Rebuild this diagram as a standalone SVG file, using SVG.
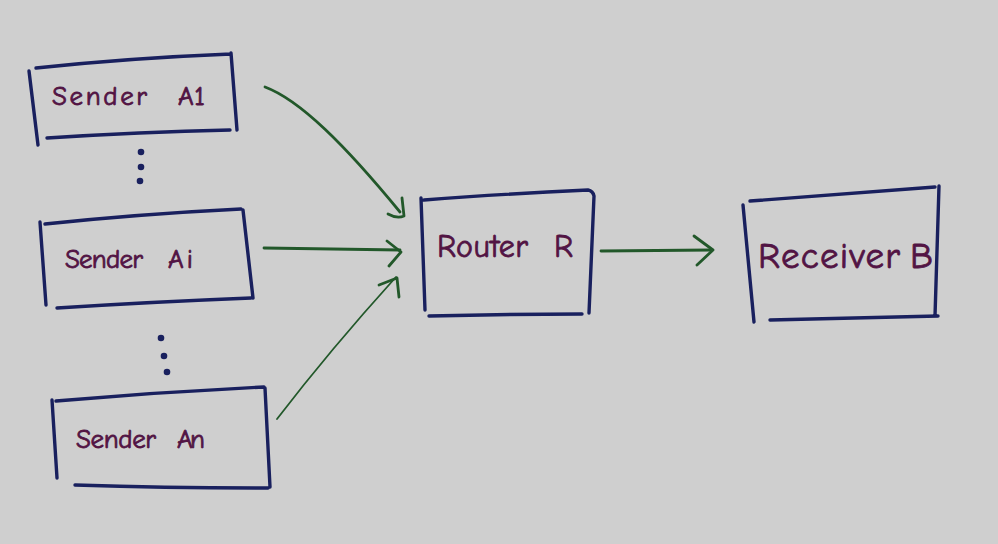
<svg xmlns="http://www.w3.org/2000/svg" width="998" height="544" viewBox="0 0 998 544">
<style>
.box{fill:none;stroke:#19205e;stroke-width:3.4;stroke-linecap:round}
.lbl{font-family:"Comic Neue","Liberation Sans",sans-serif;fill:#521444;stroke:#521444;stroke-width:0.8;font-size:27px}
.con{fill:none;stroke:#22582a;stroke-width:2.8;stroke-linecap:round;stroke-linejoin:round}
.dot{fill:#19205e}
</style>
<rect width="998" height="544" fill="#cfcfcf"/>
<g id="sender-a1">
<path class="box" d="M36,68 Q130,58 231,54 M231,53 L237,130 M47,138 Q140,132 230,130 M29,71 L38,145"/>
<text class="lbl" y="105"><tspan x="52" textLength="95" lengthAdjust="spacing">Sender</tspan><tspan x="178" textLength="27" lengthAdjust="spacing">A1</tspan></text>
</g>
<g id="dots1">
<circle class="dot" cx="141" cy="152" r="3.3"/>
<circle class="dot" cx="141" cy="167" r="3.3"/>
<circle class="dot" cx="140" cy="181" r="3.3"/>
</g>
<g id="sender-ai">
<path class="box" d="M45,224 Q140,214 241,209 M243,210 L253,298 M57,308 Q150,302 251,298 M40,222 L46,305"/>
<text class="lbl" y="268"><tspan x="65" textLength="78" lengthAdjust="spacing">Sender</tspan><tspan x="168" textLength="25" lengthAdjust="spacing">Ai</tspan></text>
</g>
<g id="dots2">
<circle class="dot" cx="161" cy="338" r="3.3"/>
<circle class="dot" cx="164" cy="356" r="3.3"/>
<circle class="dot" cx="167" cy="372" r="3.3"/>
</g>
<g id="sender-an">
<path class="box" d="M56,401 Q160,392 264,387 M265,388 L270,487 M75,485 Q170,488 268,488 M52,400 L57,478"/>
<text class="lbl" y="448"><tspan x="76" textLength="80" lengthAdjust="spacing">Sender</tspan><tspan x="177" textLength="28" lengthAdjust="spacing">An</tspan></text>
</g>
<g id="router-r">
<path class="box" d="M424,200 Q500,194 588,190 Q593,191 594,196 M594,196 L589,313 M429,316 Q505,314 582,314 M421,198 L425,310"/>
<text class="lbl" y="257" style="font-size:32px"><tspan x="437" textLength="91" lengthAdjust="spacing">Router</tspan><tspan x="554" textLength="16" lengthAdjust="spacing">R</tspan></text>
</g>
<g id="receiver-b">
<path class="box" d="M750,201 Q840,194 935,187 M939,186 L935,316 M770,320 Q850,318 938,316 M743,205 L754,322"/>
<text class="lbl" y="268" style="font-size:37px"><tspan x="758" textLength="142" lengthAdjust="spacing">Receiver</tspan><tspan x="910" textLength="25" lengthAdjust="spacing">B</tspan></text>
</g>
<g id="connectors">
<path class="con" d="M265,87 C300,100 345,145 400,212"/>
<path class="con" d="M388,214 Q397,219 404,216 L402,198"/>
<path class="con" d="M264,248 L400,250"/>
<path class="con" d="M387,241 L401,252 L389,266"/>
<path class="con" style="stroke-width:1.8" d="M277,419 Q330,350 396,277"/>
<path class="con" d="M379,285 L397,278 L399,297"/>
<path class="con" d="M601,251 L711,250"/>
<path class="con" d="M694,236 L713,250 L697,265"/>
</g>
</svg>
